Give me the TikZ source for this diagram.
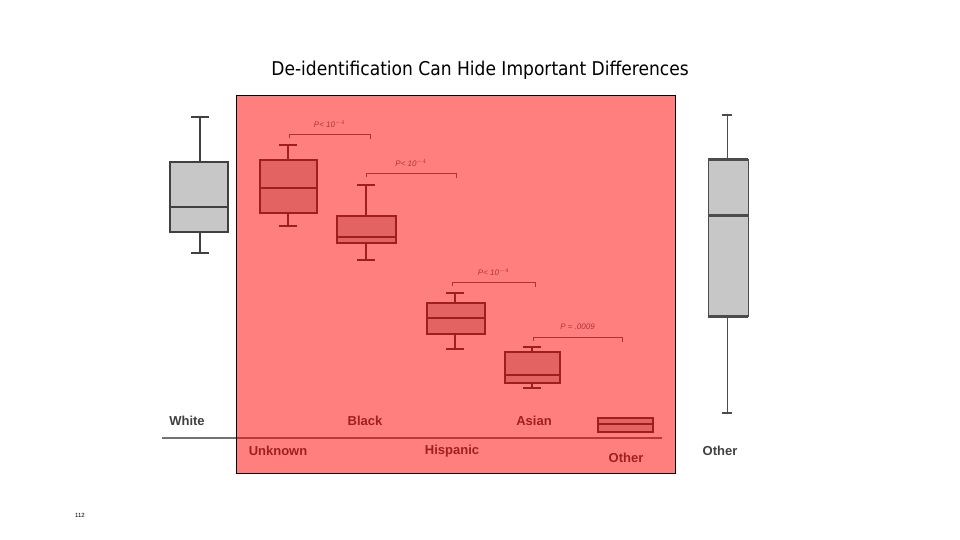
\documentclass[tikz,border=0pt]{standalone}
\usepackage{fontspec}
\setmainfont{Liberation Sans}
\newfontfamily\titlefont{DejaVu Sans Condensed}
\usetikzlibrary{positioning,calc}

\begin{document}
\begin{tikzpicture}[
    x=1pt,y=-1pt,
    every node/.style = {inner sep=0pt,outer sep=0pt},
    boxplot/.style = {draw=black!75,line width=1.6pt,fill=black!22},
    whisk/.style = {draw=black!75,line width=1.4pt},
    bracket/.style = {draw=black!60,line width=.6pt},
    ptext/.style = {font=\fontsize{8}{8}\selectfont\itshape,text=black!60},
    cat/.style = {font=\fontsize{13}{13}\selectfont\bfseries,text=black!75},
    ]
    \useasboundingbox (0,0) rectangle (960,540);
    \node (title) at (480,70) {\titlefont\fontsize{19}{19}\selectfont De-identification Can Hide Important Differences};
    \node (page) at (80,515) {\fontsize{6}{6}\selectfont 112};
    % axis
    \coordinate (axis-w) at (162,438);
    \coordinate (axis-e) at (662,438);
    \draw[black!55,line width=1.2pt] (axis-w) -- (axis-e);
    % boxes: center x, box left, box right, q1, median, q3, whisker top, whisker bottom
    \foreach \cx/\bl/\br/\qt/\md/\qb/\wt/\wb in {
        200/170/228/162/207/232/117/253,
        288/260/317/160/188/213/145/226,
        366/337/396/216/237/243/185/260,
        455/427/485/303/318/334/293/349,
        532/505/560/352/375/383/347/388}
    {
        \draw[whisk] (\cx,\wt) -- (\cx,\qt) (\cx,\qb) -- (\cx,\wb)
            (\cx-9,\wt) -- (\cx+9,\wt) (\cx-9,\wb) -- (\cx+9,\wb);
        \draw[boxplot] (\bl,\qt) rectangle (\br,\qb);
        \draw[whisk] (\bl,\md) -- (\br,\md);
    }
    \draw[boxplot] (598,418) rectangle (653,432);
    \draw[whisk] (598,424) -- (653,424);
    % brackets
    \foreach \xa/\xb/\yy/\lbl/\nm in {
        289/370/134/{P< 10$^{-4}$}/p1,
        366/456/173/{P< 10$^{-4}$}/p2,
        452/535/282/{P< 10$^{-4}$}/p3,
        533/622/337/{P = .0009}/p4}
    {
        \draw[bracket] (\xa,\yy+4) -- (\xa,\yy) -- (\xb,\yy) -- (\xb,\yy+5);
        \node[ptext] (\nm) at ({(\xa+\xb)/2},\yy-10) {\lbl};
    }
    % categories
    \node[cat] (white) at (187,421) {White};
    \node[cat] (black) at (365,421) {Black};
    \node[cat] (asian) at (534,421) {Asian};
    \node[cat] (unknown) at (278,451) {Unknown};
    \node[cat] (hispanic) at (452,451) {Hispanic};
    \node[cat] (other-a) at (626,458) {Other};
    % red overlay
    \fill[red,opacity=.5] (236,95) rectangle (675,473);
    \draw[black,line width=.8pt] (236,95) rectangle (675,473);
    % large other box
    \draw[black!70,line width=1pt] (727,115) -- (727,160) (727,316) -- (727,413);
    \draw[black!70,line width=2.5pt] (722,115) -- (732,115) (722,413) -- (732,413);
    \draw[black!70,line width=1pt,fill=black!22] (708,160) rectangle (748,316);
    \draw[black!70,line width=3pt] (708,160) -- (748,160) (708,215) -- (748,215) (708,316) -- (748,316);
    \node[cat] (other-b) at (720,451) {Other};
\end{tikzpicture}
\end{document}
